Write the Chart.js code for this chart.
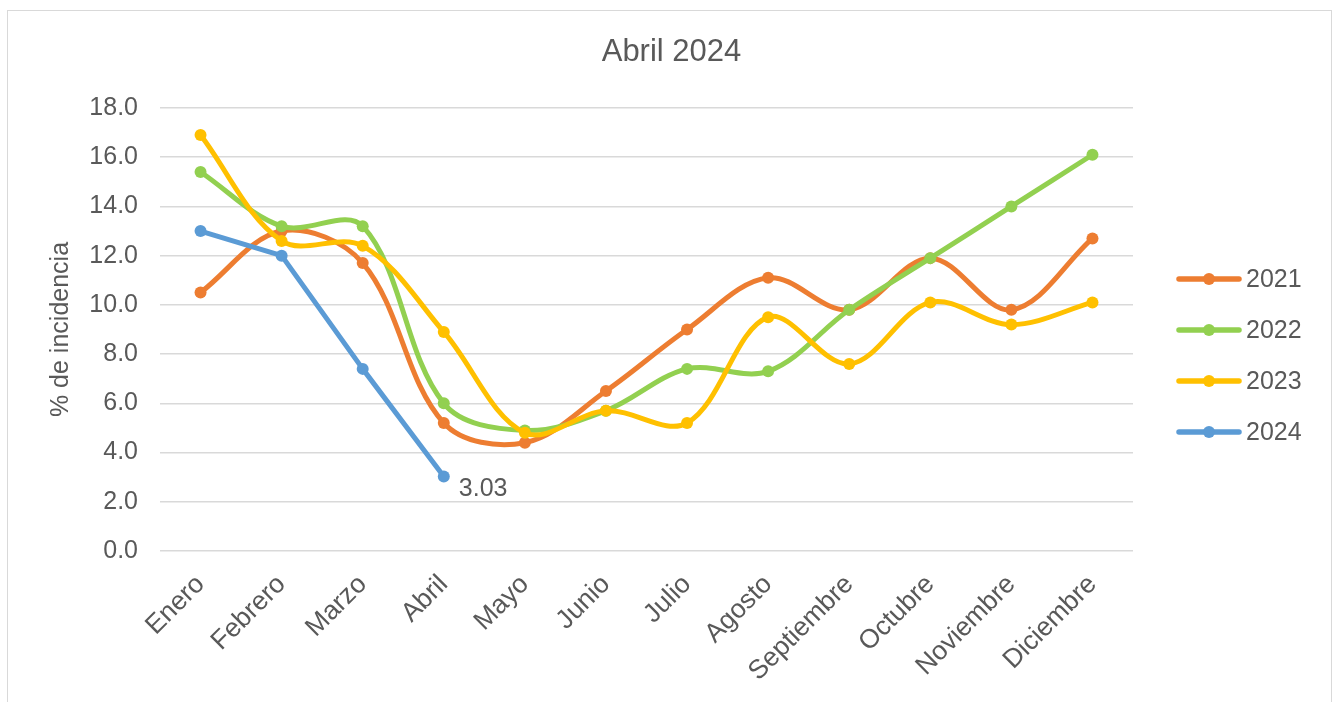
<!DOCTYPE html>
<html>
<head>
<meta charset="utf-8">
<script src="https://cdn.jsdelivr.net/npm/chart.js@4.4.1/dist/chart.umd.min.js"></script>
<style>
    html, body { margin: 0; padding: 0; background: #ffffff; }
    #contenedor { position: relative; width: 1333px; height: 702px; }
</style>
</head>
<body>
<div id="contenedor"><canvas id="grafico" width="1333" height="702"></canvas></div>
<script>
// Datos.
const MESES = ['Enero', 'Febrero', 'Marzo', 'Abril', 'Mayo', 'Junio', 'Julio', 'Agosto', 'Septiembre', 'Octubre', 'Noviembre', 'Diciembre'];
const ANIOS = ['2021', '2022', '2023', '2024'];
const VALORES_2021 = [10.5, 13.0, 11.7, 5.2, 4.4, 6.5, 9.0, 11.1, 9.8, 11.9, 9.8, 12.7];
const VALORES_2022 = [15.4, 13.2, 13.2, 6.0, 4.9, 5.7, 7.4, 7.3, 9.8, 11.9, 14.0, 16.1];
const VALORES_2023 = [16.9, 12.6, 12.4, 8.9, 4.8, 5.7, 5.2, 9.5, 7.6, 10.1, 9.2, 10.1];
const VALORES_2024 = [13.0, 12.0, 7.4, 3.03];
const TITULO = 'Abril 2024';
const TITULO_EJE_Y = '% de incidencia';

const COLORES = ['#ED7D31', '#92D050', '#FFC000', '#5B9BD5'];
const GRIS_TEXTO = '#595959';
const FUENTE = "'Liberation Sans', Arial, sans-serif";

// Se arma un dataset por año.
const series = [VALORES_2021, VALORES_2022, VALORES_2023, VALORES_2024];
const datasets = series.map((valores, i) => ({
    label: ANIOS[i],
    data: valores,
    borderColor: COLORES[i],
    backgroundColor: COLORES[i],
    pointBackgroundColor: COLORES[i],
    pointBorderWidth: 0,
    pointRadius: 6,
    borderWidth: 5,
    borderCapStyle: 'round',
    borderJoinStyle: 'round',
    tension: i === 3 ? 0 : 0.35,
    order: 3 - i
}));

// Marco gris y título centrado en todo el lienzo.
const marco = {
    id: 'marco',
    beforeDraw(chart) {
        const ctx = chart.ctx;
        ctx.save();
        ctx.fillStyle = '#ffffff';
        ctx.fillRect(0, 0, chart.width, chart.height);
        ctx.strokeStyle = '#d9d9d9';
        ctx.lineWidth = 1;
        ctx.strokeRect(7.5, 10.5, 1324, 700);
        ctx.fillStyle = GRIS_TEXTO;
        ctx.font = '31px ' + FUENTE;
        ctx.textAlign = 'center';
        ctx.textBaseline = 'middle';
        ctx.fillText(TITULO, chart.width / 2 + 5, 52);
        ctx.restore();
    }
};

// Leyenda a la derecha: línea con punto y el año.
const leyenda = {
    id: 'leyenda',
    afterDraw(chart) {
        const ctx = chart.ctx;
        const x0 = chart.chartArea.right + 46;
        ctx.save();
        chart.data.datasets.forEach((ds, i) => {
            const y = 279 + i * 51;
            ctx.strokeStyle = ds.borderColor;
            ctx.lineWidth = 5.5;
            ctx.lineCap = 'round';
            ctx.beginPath();
            ctx.moveTo(x0, y);
            ctx.lineTo(x0 + 60, y);
            ctx.stroke();
            ctx.fillStyle = ds.borderColor;
            ctx.beginPath();
            ctx.arc(x0 + 30, y, 6, 0, Math.PI * 2);
            ctx.fill();
            ctx.fillStyle = GRIS_TEXTO;
            ctx.font = '25px ' + FUENTE;
            ctx.textBaseline = 'middle';
            ctx.textAlign = 'left';
            ctx.fillText(ds.label, x0 + 67, y + 1);
        });
        ctx.restore();
    }
};

// Etiqueta del último valor de 2024.
const etiqueta = {
    id: 'etiqueta',
    afterDatasetsDraw(chart) {
        const meta = chart.getDatasetMeta(3);
        const idx = VALORES_2024.length - 1;
        const punto = meta.data[idx];
        const ctx = chart.ctx;
        ctx.save();
        ctx.fillStyle = GRIS_TEXTO;
        ctx.font = '25px ' + FUENTE;
        ctx.textBaseline = 'middle';
        ctx.textAlign = 'left';
        ctx.fillText(VALORES_2024[idx].toFixed(2), punto.x + 15, punto.y + 13);
        ctx.restore();
    }
};

new Chart(document.getElementById('grafico'), {
    type: 'line',
    data: {
        labels: MESES,
        datasets: datasets
    },
    plugins: [marco, leyenda, etiqueta],
    options: {
        responsive: false,
        animation: false,
        devicePixelRatio: 1,
        layout: { padding: { left: 0, right: 200, top: 108, bottom: 0 } },
        plugins: {
            legend: { display: false },
            tooltip: { enabled: false },
            title: { display: false }
        },
        scales: {
            x: {
                offset: true,
                grid: { display: false, drawTicks: false },
                border: { display: false },
                ticks: {
                    color: GRIS_TEXTO,
                    font: { family: FUENTE, size: 26.5 },
                    minRotation: 45,
                    maxRotation: 45,
                    padding: 18,
                    autoSkip: false
                },
                afterFit(escala) { escala.height = 151; }
            },
            y: {
                min: 0,
                max: 18,
                grid: { color: '#d9d9d9', lineWidth: 1.5, drawTicks: false },
                border: { display: false },
                ticks: {
                    stepSize: 2,
                    color: GRIS_TEXTO,
                    font: { family: FUENTE, size: 25 },
                    padding: 22,
                    callback: v => v.toFixed(1)
                },
                title: {
                    display: true,
                    text: TITULO_EJE_Y,
                    color: GRIS_TEXTO,
                    font: { family: FUENTE, size: 25 },
                    padding: { top: 46, bottom: 0 }
                },
                afterFit(escala) { escala.width = 160; }
            }
        }
    }
});
</script>
</body>
</html>
